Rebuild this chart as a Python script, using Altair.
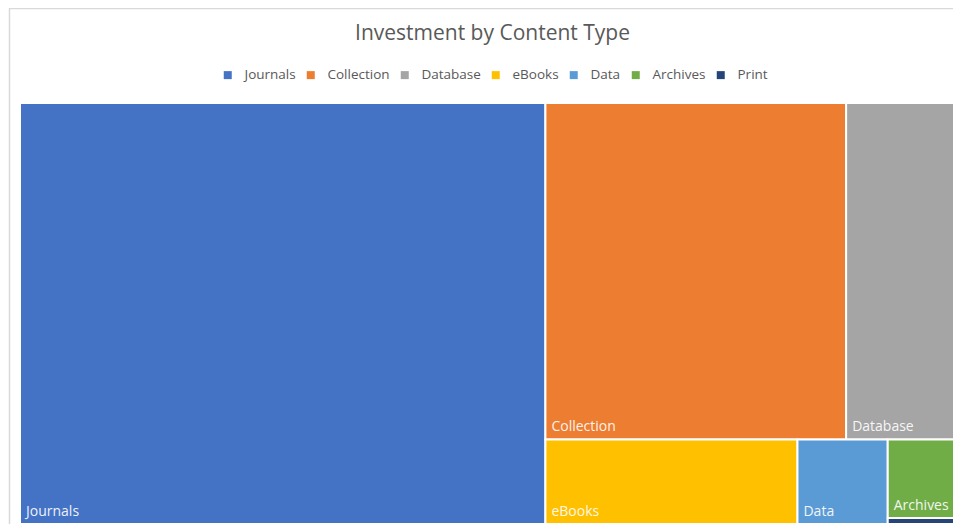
import altair as alt
import pandas as pd

# Investment (thousands) by content type
categories = ["Journals", "Collection", "Database", "eBooks", "Data", "Archives", "Print"]
investment = [2232, 1021, 390, 215, 77, 58, 4.5]
colors = ["#4472C4", "#ED7D31", "#A5A5A5", "#FFC000", "#5B9BD5", "#70AD47", "#264478"]

W, H = 941.0, 421.0


def layout(vals, x, y, w, h):
    total = sum(vals)
    k = w * h / total
    areas = [v * k for v in vals]
    rects = []
    i = 0
    while i < len(areas):
        vertical = h <= w
        short = h if vertical else w

        def ratio(row):
            thick = sum(row) / short
            length = row[0] / thick
            return max(thick / length, length / thick)

        row = [areas[i]]
        best = ratio(row)
        j = i + 1
        while j < len(areas):
            r = ratio(row + [areas[j]])
            if r < best:
                row.append(areas[j])
                best = r
                j += 1
            else:
                break
        thick = sum(row) / short
        pos = 0.0
        for a in row:
            length = a / thick
            if vertical:
                rects.append((x, y + pos, x + thick, y + pos + length))
            else:
                rects.append((x + pos, y, x + pos + length, y + thick))
            pos += length
        if vertical:
            x += thick
            w -= thick
        else:
            y += thick
            h -= thick
        i = j
    return rects


rects = layout(investment, 0.0, 0.0, W, H)
df = pd.DataFrame({
    "category": categories,
    "investment": investment,
    "x0": [r[0] for r in rects],
    "y0": [r[1] for r in rects],
    "x1": [r[2] for r in rects],
    "y1": [r[3] for r in rects],
})

# the treemap runs past the right edge of the visible page, as in the reference
xs = alt.Scale(domain=[0, W], range=[0, W], nice=False, zero=False)
ys = alt.Scale(domain=[0, H], range=[0, H], nice=False, zero=False)

base = alt.Chart(df)

tiles = base.mark_rect(stroke="white", strokeWidth=2).encode(
    x=alt.X("x0:Q", scale=xs, axis=None),
    x2="x1:Q",
    y=alt.Y("y0:Q", scale=ys, axis=None),
    y2="y1:Q",
    color=alt.Color(
        "category:N",
        scale=alt.Scale(domain=categories, range=colors),
        legend=alt.Legend(
            title=None,
            orient="none",
            direction="horizontal",
            legendX=201,
            legendY=-35,
            symbolType="square",
            symbolSize=64,
            symbolStrokeWidth=0,
            labelFontSize=13.5,
            labelFont="Open Sans",
            labelColor="#595959",
            columnPadding=8,
            labelOffset=10,
        ),
    ),
    tooltip=["category:N", "investment:Q"],
)

labels = base.transform_filter("datum.y1 - datum.y0 > 20").mark_text(
    align="left", baseline="alphabetic", dx=6, dy=-8, color="white",
    fontSize=14, font="Open Sans", opacity=0.9,
).encode(
    x=alt.X("x0:Q", scale=xs),
    y=alt.Y("y1:Q", scale=ys),
    text="category:N",
)

frame = alt.Chart(pd.DataFrame({"f": [0]})).mark_rect(
    fill=None, stroke="#d9d9d9", strokeWidth=1.5, clip=False
).encode(
    x=alt.value(-10.5), x2=alt.value(W + 40),
    y=alt.value(-94.5), y2=alt.value(H + 40),
)

chart = alt.layer(frame, tiles, labels).properties(
    width=933,
    height=H,
    autosize=alt.AutoSizeParams(type="none"),
    padding={"left": 12, "top": 95, "right": 0, "bottom": 0},
    background="white",
    title=alt.TitleParams(
        "Investment by Content Type",
        fontSize=21,
        font="Open Sans",
        fontWeight="normal",
        color="#595959",
        anchor="middle",
        offset=0,
        dx=6,
        dy=36,
    ),
).configure_view(stroke=None)

chart.save("out.html", embed_options={"renderer": "svg", "actions": False})
